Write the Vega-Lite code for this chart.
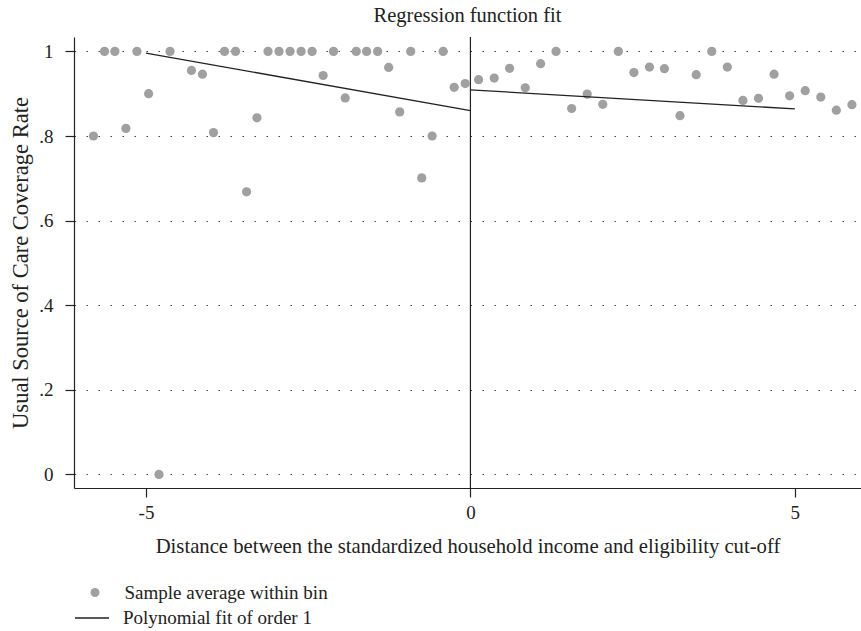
{
  "$schema": "https://vega.github.io/schema/vega-lite/v6.json",
  "width": 787,
  "height": 451,
  "autosize": {"type": "none"},
  "padding": {"left": 74, "top": 37, "right": 0, "bottom": 143},
  "background": "white",
  "title": {"text": "Regression function fit", "font": "Liberation Serif", "fontSize": 20.5, "fontWeight": "normal", "color": "#222", "offset": 10, "anchor": "middle"},
  "config": {
    "view": {"stroke": null},
    "font": "Liberation Serif",
    "axis": {"labelFont": "Liberation Serif", "titleFont": "Liberation Serif", "labelFontSize": 19, "titleFontSize": 20.7, "titleFontWeight": "normal", "labelColor": "#222", "titleColor": "#222", "domainColor": "#222", "tickColor": "#222", "tickSize": 9, "domainWidth": 1.2, "tickWidth": 1.2},
    "legend": {"labelFont": "Liberation Serif", "labelFontSize": 19, "labelColor": "#222", "labelLimit": 0}
  },
  "datasets": {
    "bins": [
      {"x": -5.81, "y": 0.80}, {"x": -5.64, "y": 1.0}, {"x": -5.48, "y": 1.0}, {"x": -5.31, "y": 0.818},
      {"x": -5.14, "y": 1.0}, {"x": -4.96, "y": 0.90}, {"x": -4.80, "y": 0.0}, {"x": -4.63, "y": 1.0},
      {"x": -4.30, "y": 0.955}, {"x": -4.13, "y": 0.946}, {"x": -3.96, "y": 0.808}, {"x": -3.79, "y": 1.0},
      {"x": -3.62, "y": 1.0}, {"x": -3.45, "y": 0.668}, {"x": -3.29, "y": 0.843}, {"x": -3.12, "y": 1.0},
      {"x": -2.95, "y": 1.0}, {"x": -2.78, "y": 1.0}, {"x": -2.61, "y": 1.0}, {"x": -2.44, "y": 1.0},
      {"x": -2.27, "y": 0.943}, {"x": -2.11, "y": 1.0}, {"x": -1.93, "y": 0.890}, {"x": -1.76, "y": 1.0},
      {"x": -1.60, "y": 1.0}, {"x": -1.43, "y": 1.0}, {"x": -1.26, "y": 0.962}, {"x": -1.09, "y": 0.857},
      {"x": -0.92, "y": 1.0}, {"x": -0.75, "y": 0.701}, {"x": -0.59, "y": 0.80}, {"x": -0.42, "y": 1.0},
      {"x": -0.25, "y": 0.915}, {"x": -0.08, "y": 0.924},
      {"x": 0.126, "y": 0.933}, {"x": 0.367, "y": 0.937}, {"x": 0.604, "y": 0.960}, {"x": 0.845, "y": 0.914},
      {"x": 1.082, "y": 0.971}, {"x": 1.32, "y": 1.0}, {"x": 1.56, "y": 0.865}, {"x": 1.80, "y": 0.899},
      {"x": 2.04, "y": 0.875}, {"x": 2.28, "y": 1.0}, {"x": 2.52, "y": 0.950}, {"x": 2.76, "y": 0.963},
      {"x": 2.99, "y": 0.959}, {"x": 3.23, "y": 0.848}, {"x": 3.48, "y": 0.945}, {"x": 3.72, "y": 1.0},
      {"x": 3.96, "y": 0.963}, {"x": 4.20, "y": 0.884}, {"x": 4.44, "y": 0.889}, {"x": 4.68, "y": 0.946},
      {"x": 4.92, "y": 0.895}, {"x": 5.16, "y": 0.907}, {"x": 5.40, "y": 0.892}, {"x": 5.64, "y": 0.861},
      {"x": 5.88, "y": 0.874}
    ],
    "fit": [
      {"side": "left", "x": -5, "y": 0.996},
      {"side": "left", "x": 0, "y": 0.860},
      {"side": "right", "x": 0, "y": 0.909},
      {"side": "right", "x": 5, "y": 0.864}
    ]
  },
  "layer": [
    {
      "data": {"values": [{"x": 0}]},
      "mark": {"type": "rule", "color": "#222", "strokeWidth": 1.2},
      "encoding": {
        "x": {"field": "x", "type": "quantitative", "scale": {"domain": [-6.11, 6.02], "nice": false, "zero": false}}
      }
    },
    {
      "data": {"name": "bins"},
      "transform": [{"calculate": "'Sample average within bin'", "as": "series"}],
      "mark": {"type": "point", "filled": true, "opacity": 1, "size": 85},
      "encoding": {
        "x": {"field": "x", "type": "quantitative",
          "scale": {"domain": [-6.11, 6.02], "nice": false, "zero": false},
          "axis": {"values": [-5, 0, 5], "grid": false, "labelExpr": "'' + datum.value", "title": "Distance between the standardized household income and eligibility cut-off", "labelPadding": 6, "titlePadding": 14}},
        "y": {"field": "y", "type": "quantitative",
          "scale": {"domain": [-0.032, 1.034], "nice": false, "zero": false},
          "axis": {"values": [0, 0.2, 0.4, 0.6, 0.8, 1], "grid": true, "gridColor": "#444", "gridDash": [1.5, 10.5], "gridWidth": 1.2,
            "labelExpr": "datum.value == 0 ? '0' : datum.value == 1 ? '1' : replace(format(datum.value, '.1f'), '0.', '.')",
            "labelPadding": 12, "title": "Usual Source of Care Coverage Rate", "titleFontSize": 22.5, "titlePadding": 6}},
        "fill": {"field": "series", "type": "nominal",
          "scale": {"range": ["#a0a0a0"]},
          "legend": {"title": null, "orient": "none", "legendX": 11.5, "legendY": 546, "padding": 0, "symbolSize": 80, "symbolStrokeWidth": 0, "labelOffset": 20}}
      }
    },
    {
      "data": {"name": "fit"},
      "transform": [{"calculate": "'Polynomial fit of order 1'", "as": "series"}],
      "mark": {"type": "line", "strokeWidth": 1.3},
      "encoding": {
        "x": {"field": "x", "type": "quantitative"},
        "y": {"field": "y", "type": "quantitative"},
        "detail": {"field": "side"},
        "stroke": {"field": "series", "type": "nominal",
          "scale": {"range": ["#222"]},
          "legend": {"title": null, "orient": "none", "legendX": 0, "legendY": 563, "padding": 0, "symbolType": "stroke", "symbolSize": 1156, "symbolStrokeWidth": 1.3, "labelOffset": 13}}
      }
    }
  ]
}
